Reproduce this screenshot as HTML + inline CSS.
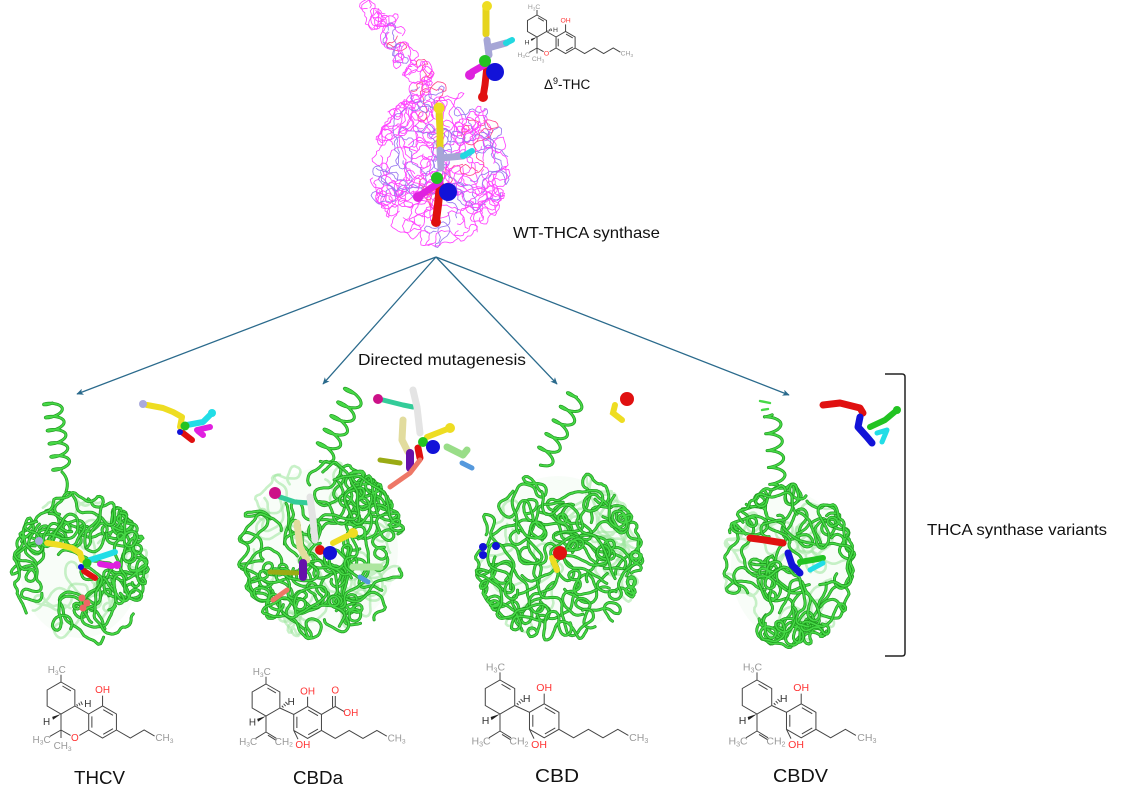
<!DOCTYPE html>
<html><head><meta charset="utf-8">
<style>
html,body{margin:0;padding:0;background:#fff;}
svg{display:block;}
.ch path,.ch polygon{vector-effect:non-scaling-stroke;}
.ch text{font-family:"Liberation Sans",Arial,sans-serif;font-size:6.2px;stroke:none;}
.lbl{font-family:"Liberation Sans",Arial,sans-serif;fill:#111;}
</style></head>
<body>
<svg id="s" width="1143" height="790" viewBox="0 0 1143 790" xmlns="http://www.w3.org/2000/svg">
<defs>
<marker id="ah" viewBox="0 0 10 10" refX="9" refY="5" markerWidth="7" markerHeight="7" markerUnits="userSpaceOnUse" orient="auto">
<path d="M0,0.5 L10,5 L0,9.5 L2.5,5 z" fill="#2a6a8c"/></marker>
</defs>

<!-- faint bodies -->
<g opacity="0.18" fill="#d8f4d8">
<ellipse cx="80" cy="568" rx="60" ry="70"/>
<ellipse cx="322" cy="550" rx="76" ry="82"/>
<ellipse cx="558" cy="556" rx="76" ry="80"/>
<ellipse cx="789" cy="566" rx="58" ry="74"/>
</g>

<g id="wire"></g>
<g id="prot"></g>

<!-- arrows -->
<g stroke="#2a6a8c" stroke-width="1.3" fill="none">
<line x1="436" y1="257" x2="77" y2="394" marker-end="url(#ah)"/>
<line x1="436" y1="257" x2="323" y2="384" marker-end="url(#ah)"/>
<line x1="436" y1="257" x2="557" y2="384" marker-end="url(#ah)"/>
<line x1="436" y1="257" x2="789" y2="395" marker-end="url(#ah)"/>
</g>

<!-- ligands WT body -->
<g fill="none" stroke-linecap="round" stroke-linejoin="round">
<path d="M439,108 L440,130 L440,150" stroke="#e6d41c" stroke-width="7"/>
<path d="M440,150 L441,168 M440,158 L463,156" stroke="#a6a6d6" stroke-width="7"/>
<path d="M463,156 L472,151" stroke="#22d8e0" stroke-width="6"/>
<path d="M440,185 L438,205 L436,220" stroke="#e01010" stroke-width="8"/>
<path d="M440,182 L425,192 L418,197" stroke="#e020e0" stroke-width="7"/>
<!-- top ligand -->
<path d="M486,6 L486,34" stroke="#e6d41c" stroke-width="7"/>
<path d="M487,40 L489,55 M488,48 L506,43" stroke="#a6a6d6" stroke-width="7"/>
<path d="M506,43 L512,40" stroke="#22d8e0" stroke-width="6"/>
<path d="M487,66 L485,85 L483,97" stroke="#e01010" stroke-width="7"/>
<path d="M486,64 L472,72" stroke="#e020e0" stroke-width="7"/>
</g>
<g>
<circle cx="439" cy="108" r="5.5" fill="#eedd22"/>
<circle cx="436" cy="222" r="5" fill="#e01010"/>
<circle cx="418" cy="197" r="5" fill="#dd22dd"/>
<circle cx="437" cy="178" r="6" fill="#22c322"/>
<circle cx="448" cy="192" r="9" fill="#1212d8"/>
<circle cx="487" cy="6" r="5" fill="#eedd22"/>
<circle cx="483" cy="97" r="5" fill="#e01010"/>
<circle cx="470" cy="75" r="5" fill="#dd22dd"/>
<circle cx="485" cy="61" r="6" fill="#22c322"/>
<circle cx="495" cy="72" r="9" fill="#1212d8"/>
</g>

<!-- top THC structure -->
<g class="ch" transform="translate(537,26) scale(1.1)" fill="none" stroke="#444" stroke-width="1">
<path d="M0,-10 L8.66,-5 L8.66,5 L0,10 L-8.66,5 L-8.66,-5 Z M0.9,-7.5 L6.2,-4.4 M0,-10 L0,-14.5 M8.66,5 L17.32,10 M17.32,20 L11.5,23.4 M6,23.4 L0,20 M0,20 L0,10 M0,20 L-7,24 M0,20 L0,25 M17.32,10 L25.98,5 L34.64,10 L34.64,20 L25.98,25 L17.32,20 Z M19.3,11.5 L19.3,18.5 M26.4,7.3 L32.5,10.8 M32.5,19.2 L26.4,22.7 M25.98,5 L25.98,-1.5 M34.64,20 L43.3,25 L51.96,20 L60.6,25 L69.3,20 L75.8,23.8 M9.8,3.9 L10.4,5.2 M11.1,3 L11.9,4.7 M12.4,2.2 L13.4,4.3"/>
<polygon points="0,10 -5.5,11.8 -5,13.6" fill="#222" stroke="none"/>
<text x="3" y="-15.5" text-anchor="end" fill="#999">H<tspan font-size="4.2" dy="1.2">3</tspan><tspan dy="-1.2">C</tspan></text>
<text x="8.66" y="27" text-anchor="middle" fill="#f33">O</text>
<text x="-6.5" y="28" text-anchor="end" fill="#999">H<tspan font-size="4.2" dy="1.2">3</tspan><tspan dy="-1.2">C</tspan></text>
<text x="1" y="32" text-anchor="middle" fill="#999">CH<tspan font-size="4.2" dy="1.2">3</tspan></text>
<text x="26" y="-3" text-anchor="middle" fill="#f33">OH</text>
<text x="76" y="27" fill="#999">CH<tspan font-size="4.2" dy="1.2">3</tspan></text>
<text x="14.5" y="5.5" fill="#333">H</text>
<text x="-9" y="17" text-anchor="middle" fill="#333">H</text>
</g>
<text class="lbl" x="544" y="89" font-size="13.5">Δ<tspan font-size="9" dy="-5">9</tspan><tspan dy="5">-THC</tspan></text>

<text class="lbl" x="513" y="238" font-size="16" textLength="147" lengthAdjust="spacingAndGlyphs">WT-THCA synthase</text>
<text class="lbl" x="358" y="365" font-size="16" textLength="168" lengthAdjust="spacingAndGlyphs">Directed mutagenesis</text>
<text class="lbl" x="927" y="535" font-size="16" textLength="180" lengthAdjust="spacingAndGlyphs">THCA synthase variants</text>

<!-- bracket -->
<path d="M885,374 L902,374 Q905,374 905,377 L905,653 Q905,656 902,656 L885,656" fill="none" stroke="#222" stroke-width="1.5"/>

<!-- THCV ligand -->
<g fill="none" stroke-linecap="round" stroke-linejoin="round">
<path d="M147,405 L163,408 L173,412 L182,417 L180,427" stroke="#eedd22" stroke-width="6"/>
<path d="M187,425 L203,422 L212,413" stroke="#22dde6" stroke-width="6"/>
<path d="M197,430 L210,427 M198,431 L203,435" stroke="#e020e0" stroke-width="6"/>
<path d="M183,433 L192,440" stroke="#e01010" stroke-width="6"/>
</g>
<circle cx="143" cy="404" r="4" fill="#aaaadd"/>
<circle cx="212" cy="413" r="4" fill="#22dde6"/>
<circle cx="185" cy="426" r="4.5" fill="#22c322"/>
<circle cx="180" cy="432" r="3" fill="#1212d8"/>

<!-- CBDa cluster -->
<g fill="none" stroke-linecap="round" stroke-linejoin="round">
<path d="M383,400 L403,405 L413,407" stroke="#33cc99" stroke-width="5"/>
<path d="M413,390 L417,407 L420,433" stroke="#e4e4e4" stroke-width="7"/>
<path d="M403,420 L402,440 L408,452" stroke="#e2dc9e" stroke-width="7"/>
<path d="M427,437 L450,428" stroke="#eedd22" stroke-width="6"/>
<path d="M447,447 L463,455 L467,450" stroke="#99dd88" stroke-width="7"/>
<path d="M462,463 L472,468" stroke="#5599dd" stroke-width="5"/>
<path d="M418,448 L420,458" stroke="#e01010" stroke-width="7"/>
<path d="M410,453 L410,468" stroke="#6611aa" stroke-width="8"/>
<path d="M380,460 L400,463" stroke="#9aab14" stroke-width="5"/>
<path d="M420,460 L410,473 L390,487" stroke="#ee7766" stroke-width="5"/>
</g>
<circle cx="378" cy="399" r="5" fill="#cc1188"/>
<circle cx="450" cy="428" r="5" fill="#eedd22"/>
<circle cx="423" cy="442" r="5" fill="#22c322"/>
<circle cx="433" cy="447" r="7" fill="#1212d8"/>

<!-- CBD ligand -->
<path d="M615,405 L613,413 L622,420" fill="none" stroke="#eedd22" stroke-width="6" stroke-linecap="round"/>
<circle cx="627" cy="399" r="7" fill="#e01010"/>

<!-- CBDV ligand -->
<g fill="none" stroke-linecap="round" stroke-linejoin="round">
<path d="M823,405 L840,403 L860,408 L863,413" stroke="#e01010" stroke-width="7"/>
<path d="M860,417 L858,427 L867,437 L872,443" stroke="#1212d8" stroke-width="7"/>
<path d="M870,427 L885,420 L897,410" stroke="#22c322" stroke-width="6"/>
<path d="M877,433 L887,430 L882,442" stroke="#22dde6" stroke-width="5"/>
</g>
<circle cx="897" cy="410" r="4" fill="#22c322"/>

<g id="inbody"></g>

<!-- chem structures -->
<!-- THCV -->
<g class="ch" transform="translate(61,698) scale(1.6)" fill="none" stroke="#444" stroke-width="1">
<path d="M0,-10 L8.66,-5 L8.66,5 L0,10 L-8.66,5 L-8.66,-5 Z M0.9,-7.5 L6.2,-4.4 M0,-10 L0,-14.5 M8.66,5 L17.32,10 M17.32,20 L11.5,23.4 M6,23.4 L0,20 M0,20 L0,10 M0,20 L-7,24 M0,20 L0,25 M17.32,10 L25.98,5 L34.64,10 L34.64,20 L25.98,25 L17.32,20 Z M19.3,11.5 L19.3,18.5 M26.4,7.3 L32.5,10.8 M32.5,19.2 L26.4,22.7 M25.98,5 L25.98,-1.5 M34.64,20 L43.3,25 L51.96,20 L58.5,23.8 M9.8,3.9 L10.4,5.2 M11.1,3 L11.9,4.7 M12.4,2.2 L13.4,4.3"/>
<polygon points="0,10 -5.5,11.8 -5,13.6" fill="#222" stroke="none"/>
<text x="3" y="-15.5" text-anchor="end" fill="#999">H<tspan font-size="4.2" dy="1.2">3</tspan><tspan dy="-1.2">C</tspan></text>
<text x="8.66" y="27" text-anchor="middle" fill="#f33">O</text>
<text x="-6.5" y="28" text-anchor="end" fill="#999">H<tspan font-size="4.2" dy="1.2">3</tspan><tspan dy="-1.2">C</tspan></text>
<text x="1" y="32" text-anchor="middle" fill="#999">CH<tspan font-size="4.2" dy="1.2">3</tspan></text>
<text x="26" y="-3" text-anchor="middle" fill="#f33">OH</text>
<text x="59" y="27" fill="#999">CH<tspan font-size="4.2" dy="1.2">3</tspan></text>
<text x="14.5" y="5.5" fill="#333">H</text>
<text x="-9" y="17" text-anchor="middle" fill="#333">H</text>
</g>

<!-- CBDa -->
<g class="ch" transform="translate(266,700) scale(1.6)" fill="none" stroke="#444" stroke-width="1">
<path d="M0,-10 L8.66,-5 L8.66,5 L0,10 L-8.66,5 L-8.66,-5 Z M0.9,-7.5 L6.2,-4.4 M0,-10 L0,-14.5 M8.66,5 L17.34,9 M0,10 L0,20 M0,20 L-6.5,24 M0,20 L6.5,24 M1.2,22 L6.3,25.2 M17.34,9 L26,4 L34.66,9 L34.66,19 L26,24 L17.34,19 Z M19.3,10.5 L19.3,17.5 M26.4,6.3 L32.5,9.8 M32.5,18.2 L26.4,21.7 M26,4 L26,-2 M17.34,19 L20,24.5 M34.66,19 L43.3,24 L52,19 L60.6,24 L69.3,19 L75.5,22.6 M34.66,9 L43.3,4 M43.3,4 L43.3,-2.5 M41.6,4.5 L41.6,-2.5 M43.3,4 L49,7.3 M9.9,3.6 L10.9,4.7 M11,2.4 L12.3,3.8 M12.1,1.2 L13.7,2.9"/>
<polygon points="0,10 -5.5,11.8 -5,13.6" fill="#222" stroke="none"/>
<text x="3" y="-15.5" text-anchor="end" fill="#999">H<tspan font-size="4.2" dy="1.2">3</tspan><tspan dy="-1.2">C</tspan></text>
<text x="13.5" y="3" fill="#333">H</text>
<text x="-8.5" y="16" text-anchor="middle" fill="#333">H</text>
<text x="-5.5" y="28" text-anchor="end" fill="#999">H<tspan font-size="4.2" dy="1.2">3</tspan><tspan dy="-1.2">C</tspan></text>
<text x="5.5" y="28" fill="#999">CH<tspan font-size="4.2" dy="1.2">2</tspan></text>
<text x="26" y="-3.5" text-anchor="middle" fill="#f33">OH</text>
<text x="23" y="30" text-anchor="middle" fill="#f33">OH</text>
<text x="76" y="26" fill="#999">CH<tspan font-size="4.2" dy="1.2">3</tspan></text>
<text x="43.3" y="-4" text-anchor="middle" fill="#f33">O</text>
<text x="53" y="10" text-anchor="middle" fill="#f33">OH</text>
</g>

<!-- CBD -->
<g class="ch" transform="translate(500,697) scale(1.7)" fill="none" stroke="#444" stroke-width="1">
<path d="M0,-10 L8.66,-5 L8.66,5 L0,10 L-8.66,5 L-8.66,-5 Z M0.9,-7.5 L6.2,-4.4 M0,-10 L0,-14.5 M8.66,5 L17.34,9 M0,10 L0,20 M0,20 L-6.5,24 M0,20 L6.5,24 M1.2,22 L6.3,25.2 M17.34,9 L26,4 L34.66,9 L34.66,19 L26,24 L17.34,19 Z M19.3,10.5 L19.3,17.5 M26.4,6.3 L32.5,9.8 M32.5,18.2 L26.4,21.7 M26,4 L26,-2 M17.34,19 L20,24.5 M34.66,19 L43.3,24 L52,19 L60.6,24 L69.3,19 L75.5,22.6 M9.9,3.6 L10.9,4.7 M11,2.4 L12.3,3.8 M12.1,1.2 L13.7,2.9"/>
<polygon points="0,10 -5.5,11.8 -5,13.6" fill="#222" stroke="none"/>
<text x="3" y="-15.5" text-anchor="end" fill="#999">H<tspan font-size="4.2" dy="1.2">3</tspan><tspan dy="-1.2">C</tspan></text>
<text x="13.5" y="3" fill="#333">H</text>
<text x="-8.5" y="16" text-anchor="middle" fill="#333">H</text>
<text x="-5.5" y="28" text-anchor="end" fill="#999">H<tspan font-size="4.2" dy="1.2">3</tspan><tspan dy="-1.2">C</tspan></text>
<text x="5.5" y="28" fill="#999">CH<tspan font-size="4.2" dy="1.2">2</tspan></text>
<text x="26" y="-3.5" text-anchor="middle" fill="#f33">OH</text>
<text x="23" y="30" text-anchor="middle" fill="#f33">OH</text>
<text x="76" y="26" fill="#999">CH<tspan font-size="4.2" dy="1.2">3</tspan></text>
</g>

<!-- CBDV -->
<g class="ch" transform="translate(757,697) scale(1.7)" fill="none" stroke="#444" stroke-width="1">
<path d="M0,-10 L8.66,-5 L8.66,5 L0,10 L-8.66,5 L-8.66,-5 Z M0.9,-7.5 L6.2,-4.4 M0,-10 L0,-14.5 M8.66,5 L17.34,9 M0,10 L0,20 M0,20 L-6.5,24 M0,20 L6.5,24 M1.2,22 L6.3,25.2 M17.34,9 L26,4 L34.66,9 L34.66,19 L26,24 L17.34,19 Z M19.3,10.5 L19.3,17.5 M26.4,6.3 L32.5,9.8 M32.5,18.2 L26.4,21.7 M26,4 L26,-2 M17.34,19 L20,24.5 M34.66,19 L43.3,24 L52,19 L58.2,22.6 M9.9,3.6 L10.9,4.7 M11,2.4 L12.3,3.8 M12.1,1.2 L13.7,2.9"/>
<polygon points="0,10 -5.5,11.8 -5,13.6" fill="#222" stroke="none"/>
<text x="3" y="-15.5" text-anchor="end" fill="#999">H<tspan font-size="4.2" dy="1.2">3</tspan><tspan dy="-1.2">C</tspan></text>
<text x="13.5" y="3" fill="#333">H</text>
<text x="-8.5" y="16" text-anchor="middle" fill="#333">H</text>
<text x="-5.5" y="28" text-anchor="end" fill="#999">H<tspan font-size="4.2" dy="1.2">3</tspan><tspan dy="-1.2">C</tspan></text>
<text x="5.5" y="28" fill="#999">CH<tspan font-size="4.2" dy="1.2">2</tspan></text>
<text x="26" y="-3.5" text-anchor="middle" fill="#f33">OH</text>
<text x="23" y="30" text-anchor="middle" fill="#f33">OH</text>
<text x="59" y="26" fill="#999">CH<tspan font-size="4.2" dy="1.2">3</tspan></text>
</g>

<!-- bottom labels -->
<text class="lbl" x="74" y="784" font-size="18" textLength="51" lengthAdjust="spacingAndGlyphs">THCV</text>
<text class="lbl" x="293" y="784" font-size="18" textLength="50" lengthAdjust="spacingAndGlyphs">CBDa</text>
<text class="lbl" x="535" y="782" font-size="18" textLength="44" lengthAdjust="spacingAndGlyphs">CBD</text>
<text class="lbl" x="773" y="782" font-size="18" textLength="55" lengthAdjust="spacingAndGlyphs">CBDV</text>
</svg>

<script>
(function(){
var NS='http://www.w3.org/2000/svg';
function R(seed){var s=seed>>>0;return function(){s=(Math.imul(s,1664525)+1013904223)>>>0;var t=s^(s>>>15);t=Math.imul(t,2246822519)>>>0;return (t>>>0)/4294967296;};}
function P(parent,d,stroke,w,op){var p=document.createElementNS(NS,'path');p.setAttribute('d',d);p.setAttribute('fill','none');p.setAttribute('stroke',stroke);p.setAttribute('stroke-width',w);p.setAttribute('stroke-linejoin','round');p.setAttribute('stroke-linecap','round');if(op)p.setAttribute('opacity',op);parent.appendChild(p);return p;}
function C(parent,cx,cy,r,fill){var c=document.createElementNS(NS,'circle');c.setAttribute('cx',cx);c.setAttribute('cy',cy);c.setAttribute('r',r);c.setAttribute('fill',fill);parent.appendChild(c);}
function walk(r,cx,cy,rx,ry,steps,step,turn,sharp){
  var ang=r()*6.283,rad=Math.sqrt(r())*0.95,th=r()*6.283;
  var x=cx+Math.cos(th)*rx*rad,y=cy+Math.sin(th)*ry*rad,w=0,pts=[x.toFixed(1)+' '+y.toFixed(1)];
  for(var i=0;i<steps;i++){
    if(sharp){ang+=(r()-0.5)*sharp;}
    else{w=w*0.8+(r()-0.5)*turn; if(r()<0.025)w=(r()<0.5?-1:1)*0.45; ang+=w;}
    var dx=(x-cx)/rx,dy=(y-cy)/ry;
    if(dx*dx+dy*dy>1){var ta=Math.atan2(cy-y,cx-x);var df=Math.atan2(Math.sin(ta-ang),Math.cos(ta-ang));ang+=df*0.35;}
    x+=Math.cos(ang)*step;y+=Math.sin(ang)*step;pts.push(x.toFixed(1)+' '+y.toFixed(1));
  }
  return 'M'+pts.join('L');
}
var g=document.getElementById('prot');
function tangle(cx,cy,rx,ry,seed,n,steps){
  var r=R(seed);
  for(var k=0;k<Math.ceil(n/3);k++){P(g,walk(r,cx,cy,rx,ry,steps,2.4,0.55),'#9ae69a',2.6,0.55);}
  for(var k2=0;k2<n;k2++){var d=walk(r,cx,cy,rx,ry,steps,2.4,0.55);P(g,d,'#1c951c',3.0);P(g,d,'#46d846',1.7);}
}
function helix(x1,y1,x2,y2,amp,turns){
  var dx=x2-x1,dy=y2-y1,L=Math.hypot(dx,dy),ux=dx/L,uy=dy/L,px=-uy,py=ux,pts=[],N=Math.round(turns*30);
  for(var i=0;i<=N;i++){var t=i/N,ph=2*Math.PI*turns*t;
    var x=x1+dx*t+px*amp*Math.sin(ph)+ux*amp*0.35*Math.cos(ph);
    var y=y1+dy*t+py*amp*Math.sin(ph)+uy*amp*0.35*Math.cos(ph);
    pts.push(x.toFixed(1)+' '+y.toFixed(1));}
  var d='M'+pts.join('L');P(g,d,'#1c951c',3.0);P(g,d,'#46d846',1.7);
}
// THCV
helix(52,400,62,472,9,5.5); P(g,'M62,472 Q70,480 66,492','#1c951c',3.0);P(g,'M62,472 Q70,480 66,492','#46d846',1.7);
tangle(80,570,66,76,11,26,60);
// CBDa
helix(356,390,322,458,11,5);
tangle(322,550,82,88,23,38,60);
// CBD
helix(578,394,542,462,10,5);
tangle(558,556,82,85,37,36,60);
// CBDV
helix(772,412,778,488,8,4.5); P(g,'M760,401 L770,403 M762,410 L768,409','#46d846',2.4);
tangle(789,566,64,80,51,27,60);

// WT wireframe
var wg=document.getElementById('wire');
function wire(cx,cy,rx,ry,seed,n,steps){
  var r=R(seed);
  for(var k=0;k<n;k++){var q=r();var col=q<0.68?'#ff44ff':(q<0.9?'#9a78f0':'#ff4a90');
    P(wg,walk(r,cx,cy,rx,ry,steps,3,0,2.2),col,0.85);}
}
wire(440,168,66,78,77,70,40);
wire(378,14,18,13,81,6,22);
wire(395,36,12,13,82,4,22);
wire(406,56,11,13,83,4,22);
wire(418,76,13,13,84,5,22);
wire(428,94,17,11,85,5,22);

// in-body ligands
var ib=document.getElementById('inbody');
function T(d,c,w){P(ib,d,c,w);}
// THCV
T('M47,543 L60,545 L72,548 L80,553 L82,560','#eedd22',6);
T('M90,560 L103,556 L115,552','#22dde6',6);
T('M100,564 L112,566','#e020e0',6);
T('M84,571 L95,578','#e01010',6);
C(ib,39,541,4,'#aaaadd');C(ib,87,563,4.5,'#22c322');C(ib,117,565,4,'#dd22dd');C(ib,81,567,3,'#1212d8');
C(ib,82,598,3.5,'#ee6666');C(ib,87,603,3.5,'#ee6666');C(ib,83,608,3.5,'#ee6666');
// CBDa
T('M280,497 L295,502 L310,503','#33cc99',5);
T('M310,497 L313,520 L315,540','#e4e4e4',7);
T('M297,523 L300,547 L307,560','#e2dc9e',7);
T('M333,543 L353,533','#eedd22',6);
T('M270,572 L297,573','#9aab14',5);
T('M287,590 L273,600','#ee7766',5);
T('M353,567 L380,567','#aee6a0',7);
T('M360,577 L368,582','#5599dd',5);
T('M303,563 L303,577','#6611aa',8);
C(ib,275,493,6,'#cc1188');C(ib,353,533,5,'#eedd22');C(ib,320,550,5,'#e01010');C(ib,330,553,7,'#1212d8');
// CBD
C(ib,483,547,4,'#1212d8');C(ib,483,555,4,'#1212d8');C(ib,496,546,4,'#1212d8');
T('M552,558 L557,570','#eedd22',6);C(ib,560,553,7,'#e01010');
// CBDV
T('M750,538 L765,540 L783,543','#e01010',7);
T('M788,553 L792,565 L800,573','#1212d8',7);
T('M800,562 L812,560 L823,558','#22c322',6);
T('M810,570 L823,563','#22dde6',5);
})();
</script>
</body></html>
